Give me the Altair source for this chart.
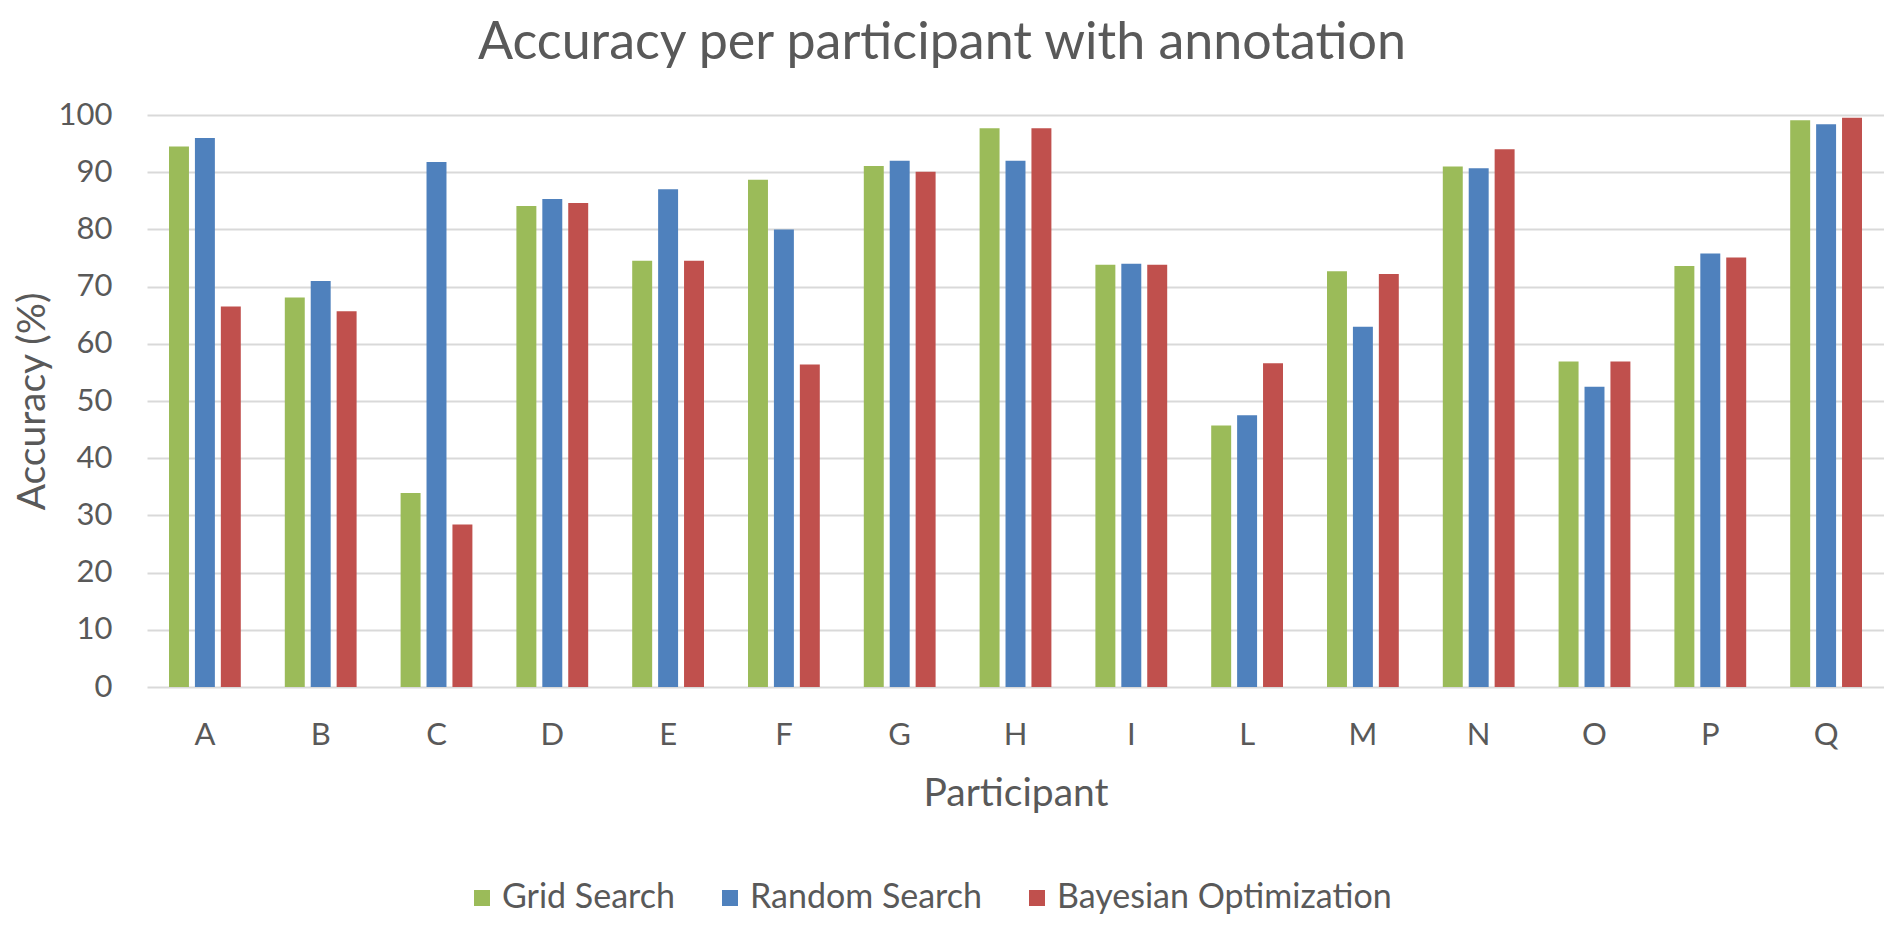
import altair as alt
import pandas as pd

participants = ["A", "B", "C", "D", "E", "F", "G", "H", "I", "L", "M", "N", "O", "P", "Q"]
grid_search = [94.5, 68.1, 33.9, 84.1, 74.5, 88.7, 91.1, 97.7, 73.8, 45.7, 72.7, 91.0, 56.9, 73.6, 99.1]
random_search = [96.0, 71.0, 91.8, 85.3, 87.0, 80.0, 92.0, 92.0, 74.0, 47.5, 63.0, 90.7, 52.5, 75.8, 98.4]
bayesian_opt = [66.5, 65.7, 28.4, 84.6, 74.5, 56.4, 90.1, 97.7, 73.8, 56.6, 72.2, 94.0, 56.9, 75.1, 99.5]

methods = ["Grid Search", "Random Search", "Bayesian Optimization"]
colors = ["#9BBB59", "#4F81BD", "#C0504D"]
chart_title = "Accuracy per participant with annotation"

rows = []
for i, p in enumerate(participants):
    for m, vals in zip(methods, [grid_search, random_search, bayesian_opt]):
        rows.append({"Participant": p, "Method": m, "Accuracy": vals[i]})
df = pd.DataFrame(rows)

TXT = "#595959"
FONT = "Lato"

bars = alt.Chart(df).mark_bar().encode(
    x=alt.X(
        "Participant:N",
        sort=participants,
        scale=alt.Scale(paddingInner=0.38, paddingOuter=0.19),
        axis=alt.Axis(
            title="Participant",
            labelAngle=0,
            labelFontSize=31,
            labelColor=TXT,
            labelFont=FONT,
            labelPadding=33,
            titleFontSize=39,
            titleFontWeight="normal",
            titleColor=TXT,
            titleFont=FONT,
            titlePadding=24,
            ticks=False,
            tickSize=0,
            domain=False,
            grid=False,
        ),
    ),
    xOffset=alt.XOffset(
        "Method:N",
        sort=methods,
        scale=alt.Scale(paddingInner=0.23, paddingOuter=0),
    ),
    y=alt.Y(
        "Accuracy:Q",
        scale=alt.Scale(domain=[0, 100], nice=False),
        axis=alt.Axis(
            title="Accuracy (%)",
            values=list(range(0, 101, 10)),
            labelFontSize=31,
            labelColor=TXT,
            labelFont=FONT,
            labelPadding=35,
            titleFontSize=39,
            titleFontWeight="normal",
            titleColor=TXT,
            titleFont=FONT,
            titlePadding=6,
            ticks=False,
            tickSize=0,
            domain=False,
            grid=True,
            gridColor="#D9D9D9",
            gridWidth=2,
        ),
    ),
    color=alt.Color(
        "Method:N",
        scale=alt.Scale(domain=methods, range=colors),
        legend=alt.Legend(
            title=None,
            orient="none",
            direction="horizontal",
            legendX=318,
            legendY=766,
            symbolType="square",
            symbolSize=256,
            symbolStrokeWidth=0,
            labelFontSize=34,
            labelFont=FONT,
            labelColor=TXT,
            labelOffset=3,
            labelLimit=0,
            columnPadding=38,
        ),
    ),
)

title_layer = alt.Chart(pd.DataFrame({"t": [chart_title]})).mark_text(
    fontSize=52,
    font=FONT,
    fontWeight="normal",
    color=TXT,
    align="center",
    baseline="alphabetic",
).encode(
    text="t:N",
    x=alt.value(795),
    y=alt.value(-56),
)

chart = alt.layer(bars, title_layer).properties(
    width=1737,
    height=572,
    autosize=alt.AutoSizeParams(type="none"),
    padding={"left": 139, "top": 107, "right": 0, "bottom": 230},
).configure_view(stroke=None)

chart.save("out.html", embed_options={"renderer": "svg", "actions": False})
